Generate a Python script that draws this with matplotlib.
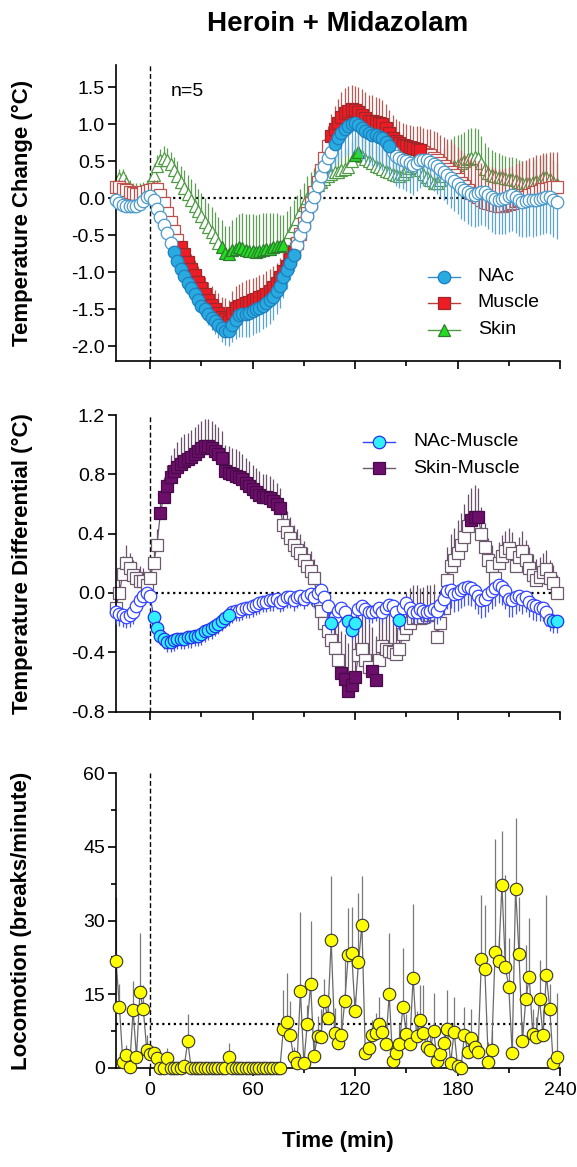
import numpy as np
import matplotlib
matplotlib.use('Agg')
import matplotlib.pyplot as plt
from matplotlib.ticker import MultipleLocator, FixedLocator, FormatStrFormatter

plt.rcParams['font.family'] = ['Liberation Sans', 'DejaVu Sans']
plt.rcParams['axes.unicode_minus'] = False

# ---------------- data ----------------
time_min = list(range(-20, 239, 2))  # 2-min bins, -20 .. 238

nac = [-0.02, -0.06, -0.09, -0.11, -0.11, -0.11, -0.10, -0.08, -0.04, 0.01,
       0.03, -0.03, -0.14, -0.25, -0.36, -0.47, -0.60, -0.73, -0.85, -0.95,
       -1.05, -1.14, -1.22, -1.30, -1.38, -1.45, -1.50, -1.56, -1.62, -1.66,
       -1.71, -1.75, -1.79, -1.80, -1.72, -1.64, -1.58, -1.56, -1.56, -1.55,
       -1.53, -1.50, -1.48, -1.45, -1.42, -1.38, -1.33, -1.26, -1.18, -1.07,
       -0.97, -0.87, -0.77, -0.63, -0.50, -0.37, -0.24, -0.10, 0.02, 0.16,
       0.30, 0.43, 0.54, 0.63, 0.73, 0.81, 0.88, 0.93, 0.97, 1.00,
       1.02, 0.99, 0.95, 0.91, 0.88, 0.86, 0.85, 0.83, 0.81, 0.76,
       0.70, 0.62, 0.57, 0.54, 0.52, 0.50, 0.47, 0.45, 0.48, 0.51,
       0.52, 0.51, 0.49, 0.46, 0.43, 0.39, 0.35, 0.31, 0.27, 0.23,
       0.19, 0.14, 0.11, 0.08, 0.06, 0.05, 0.07, 0.09, 0.08, 0.04,
       0.01, -0.01, -0.02, -0.01, 0.00, 0.03, 0.04, 0.01, -0.03, -0.05,
       -0.04, -0.03, -0.03, -0.02, -0.01, 0.00, 0.02, 0.01, -0.02, -0.05]
nac_err = [0.06, 0.06, 0.06, 0.06, 0.06, 0.06, 0.06, 0.06, 0.06, 0.06,
           0.06, 0.07, 0.08, 0.08, 0.09, 0.10, 0.10, 0.11, 0.11, 0.12,
           0.12, 0.12, 0.13, 0.13, 0.14, 0.14, 0.15, 0.15, 0.16, 0.17,
           0.18, 0.19, 0.20, 0.20, 0.22, 0.26, 0.30, 0.32, 0.32, 0.33,
           0.32, 0.32, 0.33, 0.32, 0.32, 0.32, 0.32, 0.31, 0.30, 0.28,
           0.26, 0.24, 0.22, 0.22, 0.21, 0.20, 0.20, 0.20, 0.20, 0.20,
           0.22, 0.24, 0.26, 0.28, 0.30, 0.32, 0.34, 0.36, 0.38, 0.40,
           0.40, 0.41, 0.42, 0.42, 0.43, 0.43, 0.43, 0.43, 0.43, 0.42,
           0.40, 0.40, 0.40, 0.40, 0.40, 0.40, 0.40, 0.40, 0.38, 0.37,
           0.36, 0.36, 0.36, 0.36, 0.37, 0.38, 0.38, 0.39, 0.40, 0.40,
           0.41, 0.42, 0.42, 0.43, 0.43, 0.44, 0.44, 0.45, 0.45, 0.46,
           0.46, 0.47, 0.47, 0.48, 0.48, 0.48, 0.48, 0.48, 0.48, 0.48,
           0.48, 0.48, 0.49, 0.49, 0.49, 0.49, 0.49, 0.50, 0.50, 0.50]

muscle = [0.15, 0.15, 0.13, 0.11, 0.09, 0.07, 0.06, 0.06, 0.08, 0.10,
          0.11, 0.12, 0.12, 0.05, -0.07, -0.20, -0.32, -0.44, -0.56, -0.66,
          -0.76, -0.86, -0.95, -1.04, -1.13, -1.22, -1.30, -1.37, -1.44, -1.50,
          -1.55, -1.60, -1.63, -1.66, -1.55, -1.48, -1.46, -1.44, -1.42, -1.40,
          -1.38, -1.36, -1.34, -1.32, -1.29, -1.25, -1.20, -1.14, -1.07, -0.99,
          -0.91, -0.82, -0.73, -0.60, -0.48, -0.34, -0.20, -0.06, 0.08, 0.22,
          0.38, 0.54, 0.70, 0.84, 0.93, 1.02, 1.10, 1.15, 1.18, 1.20,
          1.19, 1.16, 1.12, 1.08, 1.05, 1.04, 1.03, 1.02, 1.00, 0.95,
          0.88, 0.82, 0.77, 0.74, 0.72, 0.70, 0.69, 0.68, 0.67, 0.65,
          0.62, 0.60, 0.58, 0.55, 0.52, 0.48, 0.44, 0.40, 0.36, 0.31,
          0.26, 0.21, 0.16, 0.11, 0.07, 0.04, 0.01, -0.02, -0.05, -0.07,
          -0.08, -0.09, -0.10, -0.10, -0.09, -0.08, -0.06, -0.04, -0.02, 0.00,
          0.02, 0.04, 0.06, 0.08, 0.10, 0.12, 0.13, 0.14, 0.15, 0.15]
muscle_err = [0.10, 0.10, 0.10, 0.10, 0.10, 0.10, 0.10, 0.10, 0.10, 0.10,
              0.10, 0.12, 0.12, 0.12, 0.13, 0.13, 0.14, 0.14, 0.15, 0.16,
              0.17, 0.18, 0.19, 0.20, 0.21, 0.22, 0.23, 0.24, 0.25, 0.26,
              0.27, 0.27, 0.28, 0.28, 0.30, 0.30, 0.30, 0.31, 0.31, 0.31,
              0.30, 0.30, 0.30, 0.30, 0.30, 0.29, 0.28, 0.27, 0.26, 0.25,
              0.24, 0.23, 0.22, 0.21, 0.20, 0.20, 0.20, 0.20, 0.21, 0.22,
              0.24, 0.26, 0.28, 0.30, 0.31, 0.32, 0.33, 0.34, 0.34, 0.33,
              0.33, 0.34, 0.35, 0.35, 0.35, 0.35, 0.34, 0.34, 0.33, 0.32,
              0.31, 0.31, 0.30, 0.30, 0.30, 0.30, 0.30, 0.30, 0.31, 0.32,
              0.33, 0.34, 0.35, 0.36, 0.37, 0.38, 0.39, 0.40, 0.41, 0.42,
              0.43, 0.44, 0.45, 0.46, 0.47, 0.48, 0.49, 0.50, 0.50, 0.50,
              0.50, 0.50, 0.50, 0.50, 0.50, 0.50, 0.50, 0.50, 0.50, 0.50,
              0.50, 0.50, 0.50, 0.50, 0.49, 0.49, 0.48, 0.48, 0.48, 0.48]

skin = [0.18, 0.27, 0.28, 0.20, 0.12, 0.09, 0.08, 0.08, 0.10, 0.13,
        0.20, 0.32, 0.43, 0.52, 0.55, 0.52, 0.46, 0.38, 0.30, 0.22,
        0.14, 0.06, -0.02, -0.10, -0.17, -0.24, -0.32, -0.39, -0.46, -0.53,
        -0.60, -0.66, -0.74, -0.76, -0.70, -0.68, -0.66, -0.67, -0.70, -0.72,
        -0.71, -0.73, -0.72, -0.70, -0.69, -0.68, -0.66, -0.64, -0.65, -0.63,
        -0.55, -0.46, -0.37, -0.28, -0.18, -0.09, 0.00, 0.07, 0.13, 0.18,
        0.22, 0.26, 0.30, 0.33, 0.35, 0.36, 0.38, 0.40, 0.42, 0.50,
        0.58, 0.63, 0.57, 0.53, 0.50, 0.47, 0.44, 0.42, 0.40, 0.37,
        0.35, 0.33, 0.31, 0.30, 0.33, 0.37, 0.41, 0.43, 0.42, 0.38,
        0.33, 0.28, 0.24, 0.21, 0.20, 0.24, 0.30, 0.36, 0.41, 0.44,
        0.45, 0.47, 0.50, 0.53, 0.55, 0.56, 0.55, 0.47, 0.39, 0.34,
        0.31, 0.30, 0.29, 0.28, 0.27, 0.26, 0.26, 0.24, 0.22, 0.20,
        0.20, 0.21, 0.22, 0.23, 0.25, 0.28, 0.29, 0.26, 0.22, 0.19]
skin_err = [0.12, 0.12, 0.12, 0.12, 0.12, 0.12, 0.12, 0.12, 0.12, 0.12,
            0.12, 0.14, 0.15, 0.15, 0.15, 0.16, 0.17, 0.18, 0.20, 0.22,
            0.24, 0.26, 0.28, 0.30, 0.30, 0.31, 0.32, 0.33, 0.34, 0.35,
            0.35, 0.36, 0.36, 0.38, 0.40, 0.42, 0.45, 0.47, 0.48, 0.50,
            0.50, 0.50, 0.50, 0.50, 0.49, 0.48, 0.46, 0.44, 0.42, 0.40,
            0.38, 0.36, 0.34, 0.32, 0.30, 0.30, 0.30, 0.29, 0.28, 0.28,
            0.27, 0.27, 0.26, 0.26, 0.26, 0.26, 0.26, 0.26, 0.26, 0.26,
            0.26, 0.26, 0.26, 0.27, 0.27, 0.27, 0.28, 0.28, 0.28, 0.28,
            0.29, 0.29, 0.30, 0.30, 0.30, 0.30, 0.31, 0.32, 0.32, 0.33,
            0.34, 0.35, 0.36, 0.36, 0.36, 0.37, 0.38, 0.38, 0.39, 0.40,
            0.40, 0.40, 0.40, 0.40, 0.40, 0.39, 0.38, 0.37, 0.36, 0.35,
            0.34, 0.33, 0.32, 0.31, 0.30, 0.30, 0.30, 0.30, 0.30, 0.30,
            0.30, 0.30, 0.30, 0.30, 0.30, 0.30, 0.30, 0.30, 0.29, 0.28]

nac_muscle = [-0.13, -0.14, -0.15, -0.16, -0.15, -0.13, -0.09, -0.05, -0.02, 0.00,
              -0.02, -0.16, -0.24, -0.29, -0.31, -0.33, -0.33, -0.32, -0.31, -0.31,
              -0.31, -0.30, -0.30, -0.29, -0.29, -0.28, -0.26, -0.25, -0.24, -0.22,
              -0.21, -0.19, -0.17, -0.15, -0.13, -0.12, -0.12, -0.11, -0.10, -0.10,
              -0.09, -0.08, -0.07, -0.06, -0.06, -0.05, -0.05, -0.04, -0.06, -0.05,
              -0.03, -0.03, -0.05, -0.03, -0.02, -0.04, -0.02, -0.01, -0.03, 0.00,
              0.02, -0.03, -0.09, -0.20, -0.16, -0.12, -0.10, -0.13, -0.19, -0.25,
              -0.20, -0.11, -0.09, -0.11, -0.13, -0.13, -0.12, -0.10, -0.13, -0.10,
              -0.08, -0.09, -0.13, -0.18, -0.10, -0.07, -0.10, -0.13, -0.13, -0.11,
              -0.12, -0.13, -0.12, -0.11, -0.12, -0.08, -0.04, 0.01, 0.02, -0.01,
              0.00, 0.02, 0.03, 0.04, 0.03, 0.01, -0.02, -0.05, -0.04, -0.01,
              0.01, 0.03, 0.05, 0.04, 0.01, -0.04, -0.05, -0.03, -0.02, -0.04,
              -0.03, -0.06, -0.08, -0.09, -0.10, -0.10, -0.13, -0.18, -0.19, -0.19]
nac_muscle_err = [0.08, 0.08, 0.08, 0.08, 0.08, 0.08, 0.08, 0.07, 0.07, 0.06,
                  0.05, 0.05, 0.06, 0.06, 0.07, 0.07, 0.07, 0.07, 0.07, 0.07,
                  0.07, 0.07, 0.07, 0.07, 0.07, 0.07, 0.07, 0.07, 0.07, 0.07,
                  0.07, 0.07, 0.07, 0.07, 0.07, 0.07, 0.07, 0.07, 0.07, 0.07,
                  0.07, 0.07, 0.07, 0.07, 0.07, 0.07, 0.07, 0.07, 0.07, 0.07,
                  0.07, 0.07, 0.07, 0.07, 0.07, 0.07, 0.07, 0.07, 0.07, 0.07,
                  0.07, 0.07, 0.07, 0.07, 0.07, 0.07, 0.07, 0.07, 0.07, 0.07,
                  0.07, 0.07, 0.07, 0.07, 0.07, 0.07, 0.07, 0.07, 0.07, 0.07,
                  0.07, 0.07, 0.07, 0.07, 0.07, 0.07, 0.07, 0.07, 0.07, 0.07,
                  0.08, 0.08, 0.08, 0.08, 0.09, 0.10, 0.11, 0.12, 0.12, 0.12,
                  0.12, 0.12, 0.12, 0.12, 0.12, 0.12, 0.12, 0.12, 0.12, 0.12,
                  0.12, 0.12, 0.12, 0.12, 0.12, 0.12, 0.11, 0.11, 0.10, 0.10,
                  0.10, 0.10, 0.10, 0.10, 0.09, 0.09, 0.09, 0.08, 0.08, 0.08]

skin_muscle = [-0.10, 0.00, 0.13, 0.20, 0.17, 0.12, 0.10, 0.08, 0.08, 0.05,
               0.10, 0.20, 0.32, 0.54, 0.65, 0.72, 0.78, 0.82, 0.85, 0.87,
               0.89, 0.90, 0.92, 0.94, 0.96, 0.98, 0.99, 0.99, 0.98, 0.96,
               0.94, 0.91, 0.82, 0.81, 0.80, 0.79, 0.78, 0.77, 0.74, 0.72,
               0.70, 0.68, 0.66, 0.65, 0.65, 0.64, 0.62, 0.60, 0.57, 0.46,
               0.41, 0.37, 0.32, 0.29, 0.27, 0.22, 0.18, 0.15, 0.10, -0.05,
               -0.12, -0.20, -0.26, -0.32, -0.37, -0.45, -0.54, -0.58, -0.66, -0.62,
               -0.57, -0.42, -0.38, -0.45, -0.50, -0.53, -0.59, -0.45, -0.36, -0.38,
               -0.39, -0.40, -0.41, -0.38, -0.28, -0.24, -0.20, -0.17, -0.16, -0.17,
               -0.16, -0.15, -0.15, -0.14, -0.30, -0.20, -0.10, 0.09, 0.18, 0.22,
               0.27, 0.32, 0.38, 0.45, 0.49, 0.51, 0.51, 0.40, 0.31, 0.22,
               0.18, 0.10, 0.20, 0.25, 0.28, 0.30, 0.27, 0.18, 0.24, 0.28,
               0.22, 0.17, 0.12, 0.09, 0.11, 0.14, 0.16, 0.10, 0.07, 0.00]
skin_muscle_err = [0.10, 0.12, 0.12, 0.12, 0.10, 0.10, 0.10, 0.10, 0.09, 0.09,
                   0.09, 0.10, 0.11, 0.12, 0.13, 0.14, 0.15, 0.16, 0.17, 0.18,
                   0.18, 0.18, 0.18, 0.18, 0.18, 0.18, 0.18, 0.18, 0.18, 0.18,
                   0.18, 0.18, 0.18, 0.18, 0.18, 0.18, 0.18, 0.17, 0.17, 0.17,
                   0.16, 0.16, 0.16, 0.15, 0.15, 0.15, 0.15, 0.14, 0.14, 0.14,
                   0.14, 0.14, 0.14, 0.14, 0.13, 0.13, 0.13, 0.13, 0.13, 0.14,
                   0.16, 0.18, 0.20, 0.22, 0.24, 0.26, 0.28, 0.30, 0.32, 0.34,
                   0.30, 0.26, 0.28, 0.30, 0.30, 0.30, 0.30, 0.28, 0.26, 0.26,
                   0.26, 0.26, 0.26, 0.26, 0.25, 0.24, 0.23, 0.22, 0.21, 0.20,
                   0.20, 0.20, 0.20, 0.20, 0.22, 0.22, 0.22, 0.22, 0.22, 0.22,
                   0.22, 0.22, 0.22, 0.22, 0.22, 0.22, 0.20, 0.18, 0.16, 0.15,
                   0.14, 0.14, 0.14, 0.14, 0.14, 0.14, 0.14, 0.14, 0.14, 0.14,
                   0.14, 0.14, 0.14, 0.14, 0.13, 0.13, 0.13, 0.12, 0.12, 0.12]

locomotion = [21.8, 12.5, 1.3, 2.6, 0.3, 11.7, 2.3, 15.4, 11.9, 3.7,
              2.8, 3.0, 2.0, 0.0, 0.0, 2.0, 0.0, 0.0, 0.0, 0.0,
              0.4, 5.5, 0.0, 0.0, 0.0, 0.0, 0.0, 0.0, 0.0, 0.0,
              0.0, 0.0, 0.0, 2.3, 0.0, 0.0, 0.0, 0.0, 0.0, 0.0,
              0.0, 0.0, 0.0, 0.0, 0.0, 0.0, 0.0, 0.0, 0.0, 7.9,
              9.4, 6.7, 2.2, 1.0, 15.7, 1.0, 8.9, 17.0, 2.5, 6.5,
              6.4, 13.7, 10.1, 26.0, 7.2, 5.0, 6.7, 13.7, 23.0, 23.3,
              11.5, 21.6, 29.1, 3.0, 4.0, 6.7, 7.1, 8.9, 7.4, 4.9,
              15.0, 1.5, 3.0, 4.9, 12.5, 6.9, 4.9, 18.4, 6.5, 9.8,
              7.1, 4.3, 3.7, 7.6, 1.5, 2.8, 5.0, 7.9, 1.1, 7.4,
              0.4, 0.0, 6.7, 3.3, 6.2, 4.2, 3.3, 22.2, 20.1, 1.3,
              3.7, 23.5, 21.8, 37.2, 20.6, 16.5, 3.1, 36.5, 23.2, 5.4,
              14.0, 18.6, 6.9, 6.4, 14.0, 6.7, 18.9, 12.1, 1.1, 2.3]
locomotion_err = [13.0, 4.5, 1.5, 2.0, 0.5, 6.0, 1.5, 12.0, 5.0, 3.0,
                  1.5, 1.0, 1.0, 0.0, 0.0, 2.0, 0.0, 0.0, 0.0, 0.0,
                  0.5, 5.5, 0.0, 0.0, 0.0, 0.0, 0.0, 0.0, 0.0, 0.0,
                  0.0, 0.0, 0.0, 2.8, 0.0, 0.0, 0.0, 0.0, 0.0, 0.0,
                  0.0, 0.0, 0.0, 0.0, 0.0, 0.0, 0.0, 0.0, 0.0, 8.0,
                  10.0, 7.0, 2.0, 1.5, 16.0, 2.0, 4.0, 13.0, 3.0, 4.0,
                  5.5, 4.5, 3.0, 13.0, 5.0, 3.0, 8.0, 8.0, 9.5, 9.5,
                  3.0, 14.0, 10.0, 1.5, 2.5, 3.0, 4.0, 5.5, 3.0, 4.0,
                  12.4, 2.0, 3.0, 4.0, 12.0, 4.0, 3.0, 15.0, 5.0, 7.0,
                  9.8, 3.0, 3.0, 7.6, 2.0, 3.0, 3.0, 8.0, 2.0, 7.1,
                  1.0, 0.5, 5.7, 3.0, 5.8, 3.0, 3.0, 13.0, 13.0, 4.0,
                  4.0, 23.0, 5.0, 11.0, 18.7, 10.0, 3.0, 14.3, 11.6, 4.0,
                  11.0, 12.0, 5.0, 4.0, 8.0, 5.0, 16.3, 5.0, 2.0, 13.0]
locomotion_baseline = 9.0

# time spans (min) of significant points (filled symbols)
nac_sig = [(14, 84), (108, 140)]
muscle_sig = [(18, 84), (106, 158)]
skin_sig = [(42, 78), (120, 122)]
nac_muscle_sig = [(2, 46), (106, 106), (116, 120), (146, 146), (236, 238)]
skin_muscle_sig = [(6, 76), (112, 120), (130, 132), (188, 192)]

xticks_major = [0, 60, 120, 180, 240]

# ---------------- figure ----------------
W, H = 577, 1167
fig = plt.figure(figsize=(W / 100, H / 100), dpi=100)

def ax_rect(left, right, top, bottom):
    return [left / W, 1 - bottom / H, (right - left) / W, (bottom - top) / H]

ax1 = fig.add_axes(ax_rect(116, 560, 65, 361))
ax2 = fig.add_axes(ax_rect(116, 560, 415, 711.5))
ax3 = fig.add_axes(ax_rect(116, 560, 773, 1068))

t = np.array(time_min)


def sig_mask(spans):
    return np.array([any(a <= tt <= b for a, b in spans) for tt in t])


def style_axes(ax, show_xlabels):
    for s in ('top', 'right'):
        ax.spines[s].set_visible(False)
    for s in ('left', 'bottom'):
        ax.spines[s].set_linewidth(1.2)
    ax.set_xlim(-20, 240)
    ax.xaxis.set_major_locator(FixedLocator(xticks_major))
    ax.xaxis.set_minor_locator(FixedLocator([30, 90, 150, 210]))
    ax.tick_params(which='major', direction='out', length=6, width=1.2,
                   labelsize=14, pad=2)
    ax.tick_params(which='minor', direction='out', length=3.5, width=1.2)
    ax.tick_params(axis='x', which='major', pad=4)
    if not show_xlabels:
        ax.tick_params(axis='x', labelbottom=False)
    ax.axvline(0, color='black', lw=1.0, ls=(0, (3.5, 2.0)), zorder=1)


def draw_series(ax, y, err, up, spans, marker, ms, line_c, err_c, edge_open,
                fill_sig, edge_sig, z):
    y = np.array(y)
    err = np.array(err)
    zeros = np.zeros_like(err)
    yerr = [zeros, err] if up else [err, zeros]
    ax.errorbar(t, y, yerr=yerr, fmt='none', ecolor=err_c, elinewidth=0.9,
                capsize=0, zorder=z, clip_on=False)
    ax.plot(t, y, color=line_c, lw=0.9, zorder=z + 0.1, clip_on=False)
    m = sig_mask(spans)
    ax.plot(t[~m], y[~m], ls='none', marker=marker, ms=ms, mfc='white',
            mec=edge_open, mew=0.9, zorder=z + 0.2, clip_on=False)
    ax.plot(t[m], y[m], ls='none', marker=marker, ms=ms, mfc=fill_sig,
            mec=edge_sig, mew=0.9, zorder=z + 0.3, clip_on=False)


def legend_entry(ax, x0, x1, y, label, marker, ms, line_c, mfc, mec, tx):
    ax.plot([x0, x1], [y, y], transform=ax.transAxes, color=line_c, lw=1.0,
            clip_on=False, zorder=10)
    ax.plot([(x0 + x1) / 2], [y], transform=ax.transAxes, marker=marker,
            ms=ms, mfc=mfc, mec=mec, mew=0.9, ls='none', clip_on=False,
            zorder=11)
    ax.text(tx, y, label, transform=ax.transAxes, ha='left', va='center',
            fontsize=14, zorder=11)


# ---- panel 1: temperature change ----
style_axes(ax1, False)
ax1.set_ylim(-2.2, 1.8)
ax1.yaxis.set_major_locator(FixedLocator([-2.0, -1.5, -1.0, -0.5, 0.0, 0.5, 1.0, 1.5]))
ax1.yaxis.set_major_formatter(FormatStrFormatter('%.1f'))
ax1.plot([0, 240], [0, 0], color='black', lw=1.6, ls=(0, (1.0, 1.6)), zorder=1)

draw_series(ax1, skin, skin_err, True, skin_sig, '^', 9, '#4f9a45', '#5f9f55',
            '#4f9a45', '#22dd22', '#2e7d2e', 2)
draw_series(ax1, muscle, muscle_err, True, muscle_sig, 's', 8, '#b8403d', '#b85a57',
            '#c0504d', '#ee1c24', '#a0262a', 3)
draw_series(ax1, nac, nac_err, False, nac_sig, 'o', 9, '#3a8fc8', '#5aa5d6',
            '#4a9acb', '#29abe2', '#1d7fbf', 4)

ax1.text(0.124, 0.909, 'n=5', transform=ax1.transAxes, fontsize=14,
         ha='left', va='center')
legend_entry(ax1, 0.703, 0.775, 0.284, 'NAc', 'o', 9, '#3a8fc8', '#29abe2', '#1d7fbf', 0.815)
legend_entry(ax1, 0.703, 0.775, 0.196, 'Muscle', 's', 8.5, '#b8403d', '#ee1c24', '#a0262a', 0.815)
legend_entry(ax1, 0.703, 0.775, 0.105, 'Skin', '^', 9, '#4f9a45', '#22dd22', '#2e7d2e', 0.815)

# ---- panel 2: temperature differential ----
style_axes(ax2, False)
ax2.set_ylim(-0.8, 1.2)
ax2.yaxis.set_major_locator(FixedLocator([-0.8, -0.4, 0.0, 0.4, 0.8, 1.2]))
ax2.yaxis.set_major_formatter(FormatStrFormatter('%.1f'))
ax2.plot([0, 240], [0, 0], color='black', lw=1.6, ls=(0, (1.0, 1.6)), zorder=1)

draw_series(ax2, skin_muscle, skin_muscle_err, True, skin_muscle_sig, 's', 8.5,
            '#6e5a6e', '#6b506b', '#6e5a6e', '#6b0f6b', '#4a0a4a', 2)
draw_series(ax2, nac_muscle, nac_muscle_err, False, nac_muscle_sig, 'o', 9,
            '#3344ff', '#4455ff', '#3344ff', '#33eeff', '#2233ee', 4)

legend_entry(ax2, 0.556, 0.628, 0.910, 'NAc-Muscle', 'o', 9, '#3344ff', '#33eeff', '#2233ee', 0.669)
legend_entry(ax2, 0.556, 0.628, 0.821, 'Skin-Muscle', 's', 8.5, '#6e5a6e', '#6b0f6b', '#4a0a4a', 0.669)

# ---- panel 3: locomotion ----
style_axes(ax3, True)
ax3.set_ylim(0, 60)
ax3.yaxis.set_major_locator(FixedLocator([0, 15, 30, 45, 60]))
ax3.yaxis.set_minor_locator(MultipleLocator(7.5))
ax3.plot([-20, 240], [locomotion_baseline, locomotion_baseline], color='black',
         lw=1.6, ls=(0, (1.0, 1.6)), zorder=1)
loc = np.array(locomotion)
ax3.errorbar(t, loc, yerr=[np.zeros_like(loc), np.array(locomotion_err)],
             fmt='none', ecolor='#7a7a7a', elinewidth=0.9, capsize=0, zorder=2,
             clip_on=False)
ax3.plot(t, loc, color='#6a6a6a', lw=0.9, zorder=2.1, clip_on=False)
ax3.plot(t, loc, ls='none', marker='o', ms=9, mfc='#ffff00', mec='#333333',
         mew=0.8, zorder=3, clip_on=False)

# ---- labels ----
fig.text(338 / W, 1 - 24 / H, 'Heroin + Midazolam', ha='center', va='center',
         fontsize=20, fontweight='bold')
fig.text(338 / W, 1 - 1142 / H, 'Time (min)', ha='center', va='center',
         fontsize=16, fontweight='bold')
for ax, lab in ((ax1, 'Temperature Change (°C)'),
                (ax2, 'Temperature Differential (°C)'),
                (ax3, 'Locomotion (breaks/minute)')):
    pos = ax.get_position()
    fig.text(22 / W, pos.y0 + pos.height / 2, lab, rotation=90, ha='center',
             va='center', fontsize=16, fontweight='bold')

fig.savefig('out.png', dpi=100)
